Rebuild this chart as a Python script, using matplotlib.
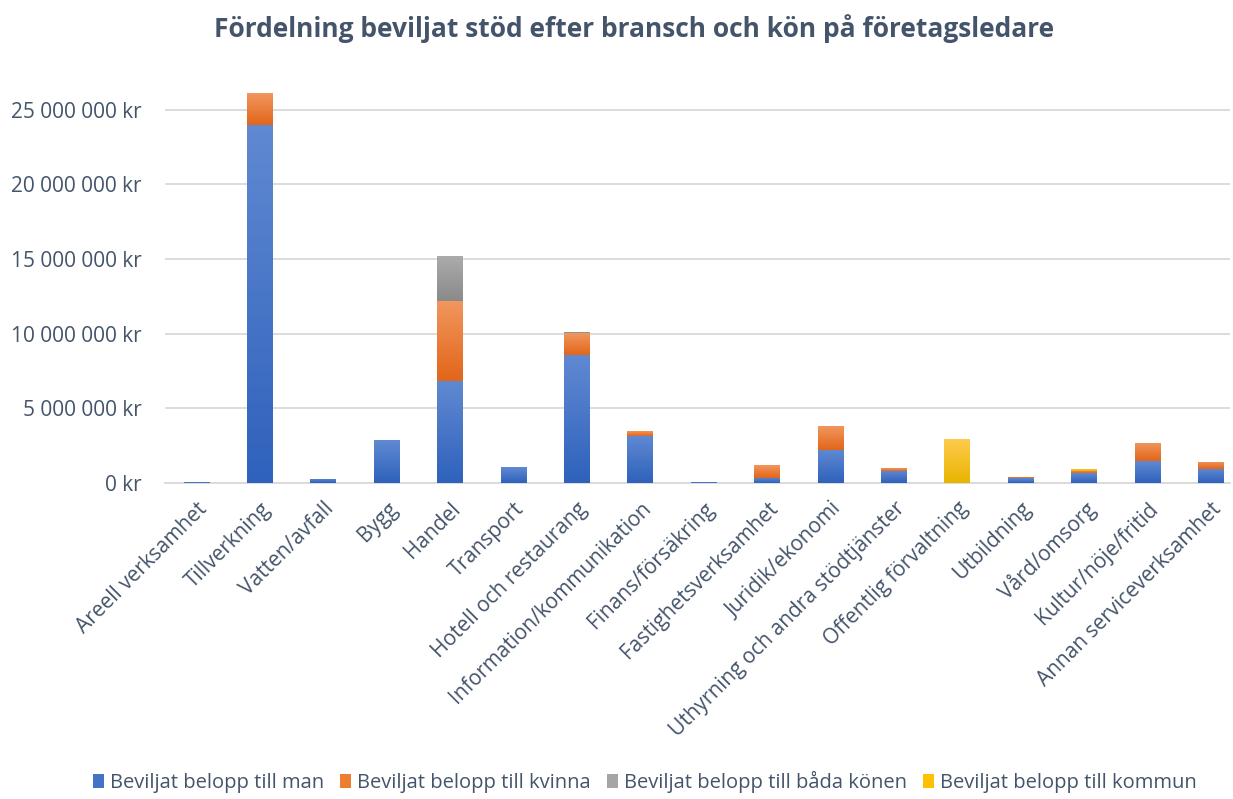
import matplotlib.pyplot as plt
import numpy as np
from matplotlib.ticker import FuncFormatter
from matplotlib.colors import LinearSegmentedColormap

# Branscher (kategorier)
branscher = ['Areell verksamhet', 'Tillverkning', 'Vatten/avfall', 'Bygg', 'Handel',
             'Transport', 'Hotell och restaurang', 'Information/kommunikation',
             'Finans/försäkring', 'Fastighetsverksamhet', 'Juridik/ekonomi',
             'Uthyrning och andra stödtjänster', 'Offentlig förvaltning', 'Utbildning',
             'Vård/omsorg', 'Kultur/nöje/fritid', 'Annan serviceverksamhet']

# Beviljat belopp per grupp (kr)
till_man = [50000, 24000000, 270000, 2880000, 6850000, 1070000, 8580000, 3170000,
            50000, 360000, 2230000, 810000, 0, 330000, 650000, 1470000, 940000]
till_kvinna = [0, 2100000, 0, 0, 5350000, 0, 1450000, 320000,
               0, 850000, 1590000, 190000, 0, 70000, 150000, 1210000, 470000]
till_bada = [0, 0, 0, 0, 3000000, 0, 90000, 0,
             0, 0, 0, 0, 0, 0, 0, 0, 0]
till_kommun = [0, 0, 0, 0, 0, 0, 0, 0,
               0, 0, 0, 0, 2950000, 0, 140000, 0, 0]

serier = ['Beviljat belopp till man', 'Beviljat belopp till kvinna',
          'Beviljat belopp till båda könen', 'Beviljat belopp till kommun']
farger = ['#4472C4', '#ED7D31', '#A5A5A5', '#FFC000']
# gradient, mörk nertill -> ljus upptill
gradienter = [('#2F62BC', '#6089D2'), ('#E2661A', '#F1965E'),
              ('#8A8A8A', '#ABABAB'), ('#E8B500', '#FFCB4F')]

plt.rcParams['font.family'] = ['Open Sans', 'DejaVu Sans']
text_color = '#44546A'

fig = plt.figure(figsize=(12.33, 7.99), dpi=100)
ax = fig.add_axes([165 / 1233, 1 - 483 / 799, 1065 / 1233, 418 / 799])

x = np.arange(len(branscher))
bottom = np.zeros(len(branscher))
grad = np.linspace(0, 1, 64).reshape(-1, 1)
for namn, vals, c, g in zip(serier, [till_man, till_kvinna, till_bada, till_kommun], farger, gradienter):
    vals = np.array(vals, dtype=float)
    bars = ax.bar(x, vals, width=0.41, bottom=bottom, color=c, label=namn, zorder=3)
    cmap = LinearSegmentedColormap.from_list('g', list(g))
    for b in bars:
        if b.get_height() <= 0:
            continue
        x0, y0 = b.get_x(), b.get_y()
        im = ax.imshow(grad, cmap=cmap, origin='lower', aspect='auto', zorder=3.5,
                       extent=(x0, x0 + b.get_width(), y0, y0 + b.get_height()))
        im.set_clip_path(b)
    bottom += vals

ax.set_xlim(-0.5, 16.3)
ax.set_ylim(0, 28000000)
ax.set_yticks(np.arange(0, 25000001, 5000000))
ax.yaxis.set_major_formatter(FuncFormatter(lambda v, p: '{:,.0f} kr'.format(v).replace(',', ' ')))
ax.grid(axis='y', color='#D9D9D9', linewidth=1.3, zorder=0)
for s in ['top', 'right', 'left']:
    ax.spines[s].set_visible(False)
ax.spines['bottom'].set_color('#D9D9D9')
ax.spines['bottom'].set_linewidth(1.3)
ax.tick_params(axis='both', length=0, colors=text_color, labelsize=15)
ax.tick_params(axis='y', pad=17)
ax.tick_params(axis='x', pad=11)
ax.set_xticks(x)
ax.set_xticklabels(branscher, rotation=45, ha='right', rotation_mode='anchor')

fig.suptitle('Fördelning beviljat stöd efter bransch och kön på företagsledare',
             x=0.514, y=0.982, fontsize=19, fontweight='bold', color=text_color)

fig.legend(loc='lower center', bbox_to_anchor=(0.523, -0.015), ncol=4, frameon=False,
           fontsize=14.5, labelcolor=text_color, handlelength=0.55, handleheight=0.7,
           handletextpad=0.3, columnspacing=0.8)

fig.savefig('out.png', dpi=100)
